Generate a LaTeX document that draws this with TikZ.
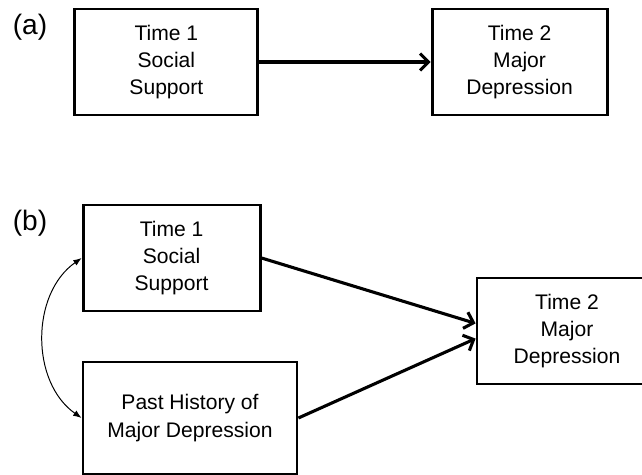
\documentclass[tikz,border=0pt]{standalone}
\usepackage{fontspec}
\setmainfont{Liberation Sans}
\usetikzlibrary{arrows.meta}

\begin{document}
\begin{tikzpicture}[
  box/.style={draw,line width=2pt,align=center,inner sep=0pt,minimum height=2.65cm,font=\fontsize{15}{19.5}\selectfont},
  effect/.style={line width=2.2pt,-{Straight Barb[length=6pt,width=12pt,line width=2.2pt]}},
  panel/.style={font=\fontsize{20}{24}\selectfont}]
\useasboundingbox (0,0) rectangle (16.05,11.875);
% panel (a)
\coordinate (P) at (4.16,10.325); \coordinate (Q) at (12.99,10.325);
\node[panel] (la) at (0.75,11.2) {(a)};
\node[box,minimum width=4.575cm] (supA) at (P) {Time 1\\Social\\Support};
\node[box,minimum width=4.375cm] (depA) at (Q) {Time 2\\Major\\Depression};
\draw[effect] (supA) -- (depA);
% panel (b)
\coordinate (R) at (4.29,5.425); \coordinate (S) at (4.75,1.425); \coordinate (T) at (14.175,3.6);
\node[panel] (lb) at (0.75,6.3) {(b)};
\node[box,minimum width=4.425cm] (supB) at (R) {Time 1\\Social\\Support};
\node[box,minimum width=5.35cm,minimum height=2.8cm] (hist) at (S) {Past History of\\Major Depression};
\node[box,minimum width=4.5cm] (depB) at (T) {Time 2\\Major\\Depression};
\draw[effect] (supB.east) -- ([yshift=0.19cm]depB.west);
\draw[effect] (hist.east) -- ([yshift=-0.19cm]depB.west);
\draw[line width=0.7pt,{Latex[length=6pt,width=4.5pt]}-{Latex[length=6pt,width=4.5pt]}] (supB.west) to[out=215,in=145] (hist.west);
\end{tikzpicture}
\end{document}
